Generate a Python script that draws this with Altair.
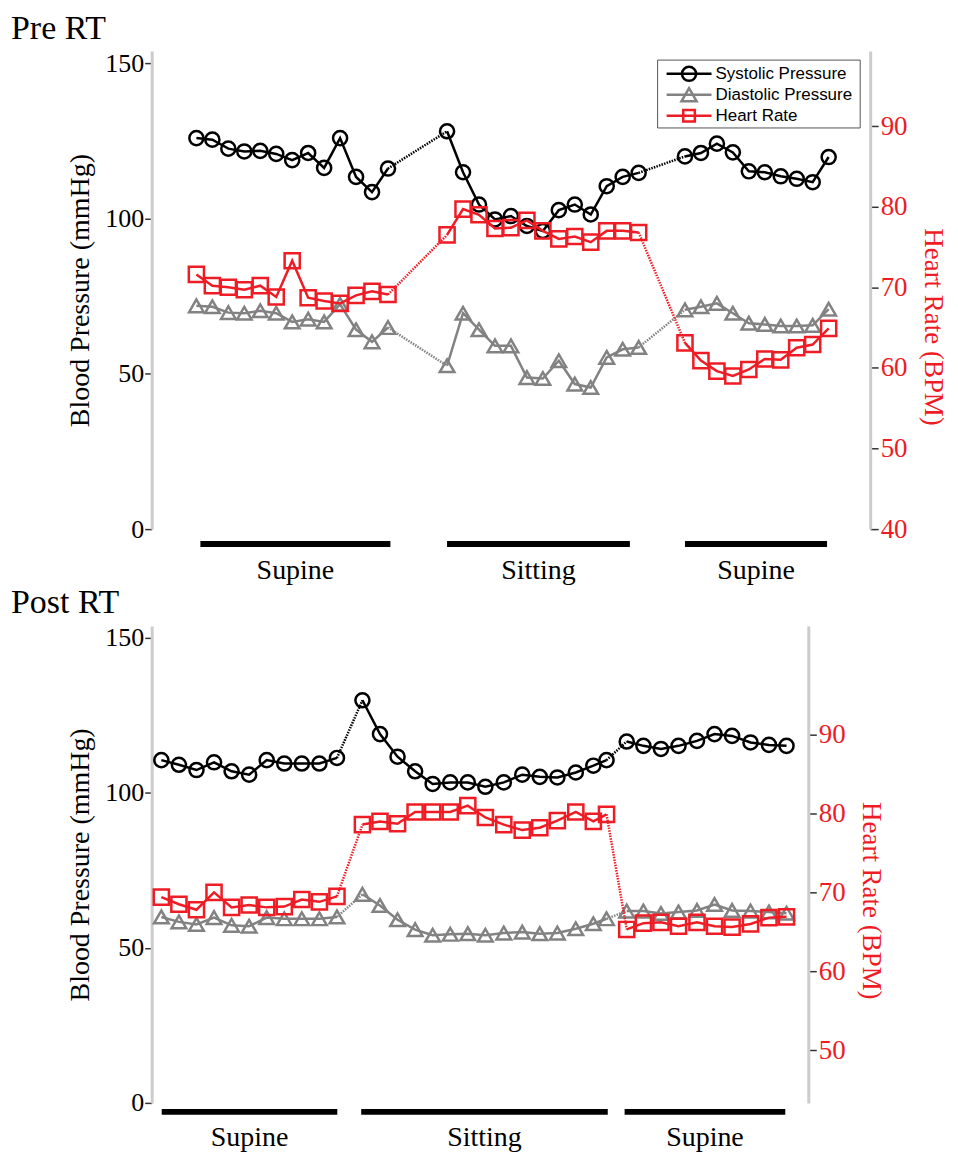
import altair as alt
import pandas as pd

SERIF = "Liberation Serif"
SANS = "Liberation Sans"
RED = "#ee1c25"

SERIES = ["Systolic Pressure", "Diastolic Pressure", "Heart Rate"]
COLORS = ["#000000", "#828282", RED]
SHAPES = ["circle", "triangle-up", "square"]
SIZES = [200, 230, 135]
CONDITIONS = ["Supine", "Sitting", "Supine"]

# ---------------- Pre RT ----------------
pre_t = [
    [2.8, 3.8, 4.8, 5.8, 6.8, 7.8, 8.8, 9.8, 10.8, 11.8, 12.8, 13.8, 14.8],
    [18.5, 19.5, 20.5, 21.5, 22.5, 23.5, 24.5, 25.5, 26.5, 27.5, 28.5, 29.5, 30.5],
    [33.4, 34.4, 35.4, 36.4, 37.4, 38.4, 39.4, 40.4, 41.4, 42.4],
]
pre_sys = [
    [125.9, 125.4, 122.5, 121.6, 121.8, 120.8, 118.8, 121.1, 116.3, 125.9, 113.4, 108.5, 116.1],
    [128.1, 114.9, 104.5, 99.7, 100.8, 97.6, 96.0, 102.7, 104.5, 101.3, 110.4, 113.4, 114.7],
    [120.0, 121.1, 124.1, 121.3, 115.2, 114.9, 113.6, 112.8, 111.7, 119.8],
]
pre_dia = [
    [71.9, 71.6, 69.7, 69.5, 70.3, 69.5, 66.7, 67.6, 66.7, 72.4, 64.2, 60.3, 64.9],
    [52.6, 69.5, 64.2, 59.0, 59.0, 48.8, 48.5, 54.2, 46.7, 45.6, 55.3, 57.9, 58.5],
    [70.6, 71.6, 72.7, 69.5, 66.3, 65.9, 65.4, 65.4, 65.6, 70.8],
]
pre_hr = [
    [71.6, 70.2, 70.0, 69.7, 70.2, 68.8, 73.3, 68.7, 68.3, 68.0, 69.0, 69.5, 69.1],
    [76.5, 79.7, 79.0, 77.3, 77.4, 78.3, 77.0, 76.0, 76.3, 75.6, 77.0, 77.0, 76.8],
    [63.1, 60.9, 59.6, 59.0, 59.8, 61.1, 61.0, 62.5, 62.9, 64.9],
]
pre_bar_start = [3.05, 18.5, 33.4]
pre_bar_end = [14.95, 29.95, 42.3]

# ---------------- Post RT ----------------
post_t = [
    [0.55, 1.55, 2.55, 3.55, 4.55, 5.55, 6.55, 7.55, 8.55, 9.55, 10.55],
    [12.0, 13.0, 14.0, 15.0, 16.0, 17.0, 18.0, 19.0, 20.05, 21.1, 22.1, 23.1, 24.15, 25.15, 25.9],
    [27.05, 28.0, 29.0, 30.0, 31.05, 32.05, 33.05, 34.1, 35.15, 36.15],
]
post_sys = [
    [110.6, 109.1, 107.4, 109.9, 107.0, 105.9, 110.6, 109.5, 109.5, 109.5, 111.3],
    [129.9, 119.0, 111.7, 107.0, 102.9, 103.4, 103.4, 102.0, 103.4, 105.9, 105.2, 105.0, 106.6, 108.8, 110.6],
    [116.6, 115.2, 114.2, 115.2, 116.8, 119.0, 118.4, 116.3, 115.5, 115.2],
]
post_dia = [
    [60.0, 58.4, 57.6, 59.8, 57.3, 57.0, 59.8, 59.4, 59.4, 59.4, 60.0],
    [67.3, 63.7, 59.1, 55.9, 54.1, 54.4, 54.6, 54.1, 54.8, 55.1, 54.6, 54.8, 56.2, 57.8, 59.4],
    [61.9, 61.9, 61.1, 61.6, 62.1, 64.0, 62.1, 61.9, 61.6, 61.2],
]
post_hr = [
    [69.4, 68.5, 67.8, 70.0, 68.1, 68.4, 68.1, 68.2, 69.1, 68.8, 69.5],
    [78.6, 79.0, 78.7, 80.2, 80.2, 80.2, 81.0, 79.5, 78.6, 77.9, 78.2, 79.1, 80.2, 79.0, 79.9],
    [65.3, 66.1, 66.2, 65.7, 66.2, 65.7, 65.6, 66.0, 66.8, 66.9],
]
post_bar_start = [0.57, 11.93, 26.93]
post_bar_end = [10.57, 25.97, 36.08]

BP_TICKS = [0, 50, 100, 150]


def long_frame(t_segs, series_vals):
    rows = []
    for name, segs in series_vals.items():
        for k, (ts, vs) in enumerate(zip(t_segs, segs)):
            for t, v in zip(ts, vs):
                rows.append({"t": t, "value": v, "series": name, "seg": k})
    return pd.DataFrame(rows)


def link_frame(t_segs, series_vals):
    rows = []
    for name, segs in series_vals.items():
        for k in range(len(segs) - 1):
            rows.append({"t": t_segs[k][-1], "value": segs[k][-1], "series": name, "link": k})
            rows.append({"t": t_segs[k + 1][0], "value": segs[k + 1][0], "series": name, "link": k})
    return pd.DataFrame(rows)


def panel(name, t_segs, sys, dia, hr, bar_start, bar_end, x_max, hr_domain, hr_ticks,
          width, height, bar_y, label_y, title_y, hr_title_y, with_legend):
    xs = alt.Scale(domain=[0, x_max], nice=False, zero=False)
    x = alt.X("t:Q", scale=xs,
              axis=alt.Axis(title=None, labels=False, ticks=False, grid=False,
                            domainColor="#cccccc", domainWidth=3))
    color = alt.Color("series:N", scale=alt.Scale(domain=SERIES, range=COLORS), legend=None)
    shape = alt.Shape("series:N", scale=alt.Scale(domain=SERIES, range=SHAPES), legend=None)
    size = alt.Size("series:N", scale=alt.Scale(domain=SERIES, range=SIZES), legend=None)

    bp_y = alt.Y("value:Q", scale=alt.Scale(domain=[0, 153.9], nice=False, zero=False),
                 axis=alt.Axis(values=BP_TICKS, orient="left", title="Blood Pressure (mmHg)",
                               labelFont=SERIF, labelFontSize=26, labelColor="black",
                               labelPadding=1, tickSize=7, tickColor="#333333", tickWidth=1.5,
                               domainColor="#cccccc", domainWidth=3, grid=False,
                               titleFont=SERIF, titleFontSize=28, titleFontWeight="normal",
                               titleColor="black", titlePadding=10))
    hr_y = alt.Y("value:Q", scale=alt.Scale(domain=hr_domain, nice=False, zero=False),
                 axis=alt.Axis(values=hr_ticks, orient="right", title="Heart Rate (BPM)",
                               labelFont=SERIF, labelFontSize=27, labelColor=RED,
                               labelPadding=2, tickSize=8, tickColor="#333333", tickWidth=1.5,
                               domainColor="#cccccc", domainWidth=3, grid=False,
                               titleFont=SERIF, titleFontSize=27, titleFontWeight="normal",
                               titleColor=RED, titlePadding=11, titleY=hr_title_y))

    bp = long_frame(t_segs, {SERIES[0]: sys, SERIES[1]: dia})
    bpl = link_frame(t_segs, {SERIES[0]: sys, SERIES[1]: dia})
    hrd = long_frame(t_segs, {SERIES[2]: hr})
    hrl = link_frame(t_segs, {SERIES[2]: hr})

    def series_layer(d, dl, y):
        return alt.layer(
            alt.Chart(dl).mark_line(strokeWidth=2.5, strokeDash=[1.5, 1.2]).encode(
                x=x, y=y, color=color, detail="link:N"),
            alt.Chart(d).mark_line(strokeWidth=2.5).encode(
                x=x, y=y, color=color, detail="seg:N"),
            alt.Chart(d).mark_point(filled=False, strokeWidth=2.5, opacity=1).encode(
                x=x, y=y, color=color, shape=shape, size=size),
        )

    bp_layer = series_layer(bp, bpl, bp_y)
    hr_layer = series_layer(hrd, hrl, hr_y)

    cond = pd.DataFrame({"label": CONDITIONS, "start": bar_start, "end": bar_end})
    bars = alt.Chart(cond).mark_rule(strokeWidth=6, color="black", strokeCap="butt").encode(
        x=alt.X("start:Q", scale=xs, axis=None), x2="end:Q", y=alt.value(bar_y))
    labels = alt.Chart(cond).transform_calculate(
        mid="(datum.start + datum.end) / 2"
    ).mark_text(font=SERIF, fontSize=28, align="center", baseline="alphabetic",
                color="black").encode(
        x=alt.X("mid:Q", scale=xs, axis=None), y=alt.value(label_y), text="label:N")
    title = alt.Chart(pd.DataFrame({"title": [name]})).mark_text(
        font=SERIF, fontSize=34, align="left", baseline="alphabetic", color="black"
    ).encode(x=alt.value(-141), y=alt.value(title_y), text="title:N")

    layers = [bp_layer, hr_layer, bars, labels, title]

    if with_legend:
        one = pd.DataFrame({"series": ["box"]})
        layers.append(alt.Chart(one).mark_rect(fill="white", stroke="#555555", strokeWidth=1).encode(
            x=alt.value(507), x2=alt.value(710), y=alt.value(9), y2=alt.value(77)))
        for i, s in enumerate(SERIES):
            yy = 22.7 + 21 * i
            ent = pd.DataFrame({"series": [s]})
            layers.append(alt.Chart(ent).mark_rule(color=COLORS[i], strokeWidth=2.5).encode(
                x=alt.value(516), x2=alt.value(561), y=alt.value(yy)))
            layers.append(alt.Chart(ent).mark_point(
                shape=SHAPES[i], filled=False, color=COLORS[i], strokeWidth=2.5,
                size=SIZES[i], opacity=1).encode(x=alt.value(538.5), y=alt.value(yy)))
            layers.append(alt.Chart(ent).mark_text(
                font=SANS, fontSize=17, align="left", baseline="middle", color="black").encode(
                x=alt.value(565), y=alt.value(yy), text="series:N"))

    return alt.layer(*layers).resolve_scale(y="independent").properties(width=width, height=height)


pre = panel("Pre RT", pre_t, pre_sys, pre_dia, pre_hr, pre_bar_start, pre_bar_end,
            45, [40, 99.3], [40, 50, 60, 70, 80, 90], 720, 479, 494, 528.7, -12.3, 276, True)
post = panel("Post RT", post_t, post_sys, post_dia, post_hr, post_bar_start, post_bar_end,
             37.39, [43.3, 103.8], [50, 60, 70, 80, 90], 658, 478, 487, 521, -13, 275, False)

chart = alt.vconcat(pre, post, spacing=1).properties(
    padding={"left": 3, "top": 2, "right": 4, "bottom": 0}
).configure_view(stroke=None)

chart.save("out.html", embed_options={"renderer": "svg", "actions": False})
